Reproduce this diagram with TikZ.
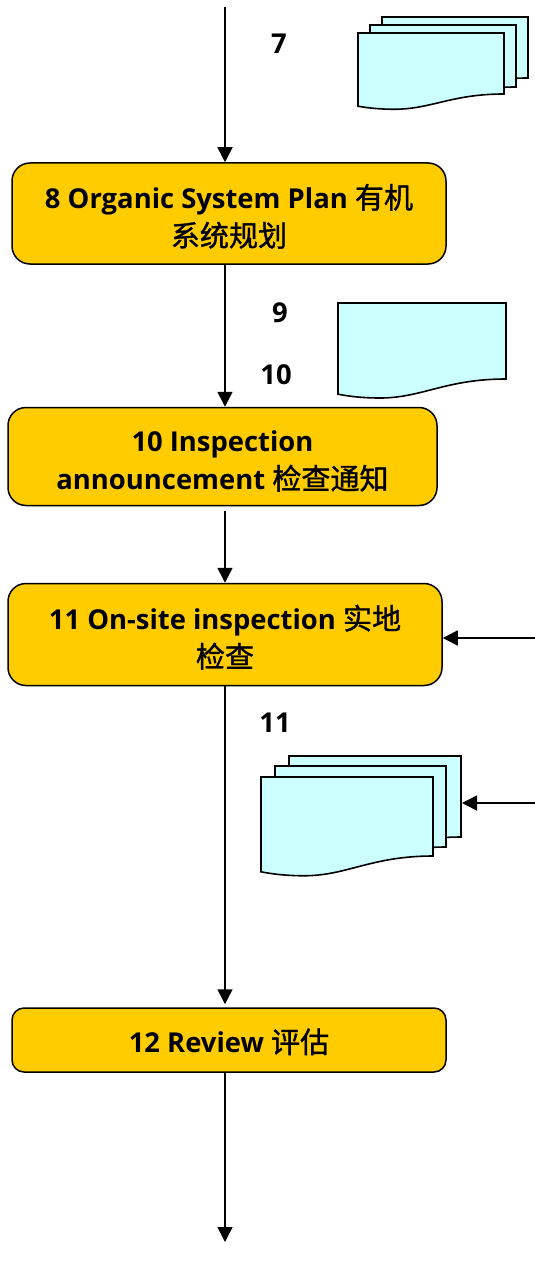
\documentclass[tikz,border=0pt]{standalone}
\usepackage{fontspec}
\setmainfont{Open Sans}
\newfontfamily\cjk[Scale=1.06, BoldFont={Noto Sans CJK SC}, BoldFeatures={FakeBold=1.2}]{Noto Sans CJK SC}
\usetikzlibrary{arrows.meta}
\definecolor{boxgold}{RGB}{255,204,0}
\definecolor{sheetblue}{RGB}{204,255,255}
\tikzset{
  stagebox/.style={draw, fill=boxgold, line width=1.5pt, align=center, inner sep=0pt,
    font=\fontsize{27.4}{38}\selectfont\bfseries, text height=#1},
  stagebox/.default=68pt,
  flowarrow/.style={line width=1.5pt, -{Triangle[width=15pt,length=15pt]}},
  sheet/.style={draw, fill=sheetblue, line width=1.6pt, line join=miter},
  stepnum/.style={font=\fontsize{27.4}{32}\selectfont\bfseries}
}
% left, top, width, height of the sheet at its right side
\newcommand{\docsheet}[4]{
  \draw[sheet] (#1,#2) -- (#1+#3,#2) -- (#1+#3,#2+#4)
    .. controls (#1+0.64*#3,#2+#4) and (#1+0.5*#3,#2+1.25*#4) .. (#1+0.25*#3,#2+1.25*#4)
    .. controls (#1+0.15*#3,#2+1.25*#4) and (#1+0.07*#3,#2+1.23*#4) .. (#1,#2+1.2*#4) -- cycle;
}
\begin{document}
\begin{tikzpicture}[x=1pt, y=-1pt, line cap=butt]
  \useasboundingbox (0,0) rectangle (535,1268);

  % the main line
  \coordinate (spine) at (225,0);
  \coordinate (start) at (225,7);
  \coordinate (finish) at (225,1242);
  \coordinate (feedA) at (535,638);
  \coordinate (feedB) at (535,803);
  \coordinate (stack) at (462,803);

  % the stages
  \node[stagebox, rounded corners=18pt, minimum width=434pt, minimum height=101pt] (plan) at (229,213.5)
    {8 Organic System Plan {\cjk 有机}\\{\cjk 系统规划}};
  \node[stagebox, rounded corners=18pt, minimum width=429pt, minimum height=98pt] (notice) at (222.5,456.5)
    {10 Inspection\\announcement {\cjk 检查通知}};
  \node[stagebox, rounded corners=18pt, minimum width=434pt, minimum height=102pt] (onsite) at (225,634.5)
    {11 On-site inspection {\cjk 实地}\\{\cjk 检查}};
  \node[stagebox=28pt, rounded corners=12pt, minimum width=434pt, minimum height=64pt] (review) at (229,1040)
    {12 Review {\cjk 评估}};

  % the numbers
  \node[stepnum] (numA) at (279,44) {7};
  \node[stepnum] (numB) at (280,313) {9};
  \node[stepnum] (numC) at (276,375) {10};
  \node[stepnum] (numD) at (275,723) {11};

  % the documents
  \docsheet{382}{17}{146}{61}
  \docsheet{370}{25}{146}{62}
  \docsheet{358}{33}{146}{61}
  \docsheet{338}{303}{168}{76}
  \docsheet{289}{756}{172}{81}
  \docsheet{275}{766}{171}{81}
  \docsheet{261}{777}{172}{79}

  % the arrows
  \draw[flowarrow] (start) -- (plan.north -| spine);
  \draw[flowarrow] (plan.south -| spine) -- (notice.north -| spine);
  \draw[flowarrow, shorten <=5pt] (notice.south -| spine) -- (onsite.north -| spine);
  \draw[flowarrow, shorten >=3pt] (onsite.south -| spine) -- (review.north -| spine);
  \draw[flowarrow] (review.south -| spine) -- (finish);
  \draw[flowarrow] (feedA) -- (onsite.east |- feedA);
  \draw[flowarrow] (feedB) -- (stack);
\end{tikzpicture}
\end{document}
